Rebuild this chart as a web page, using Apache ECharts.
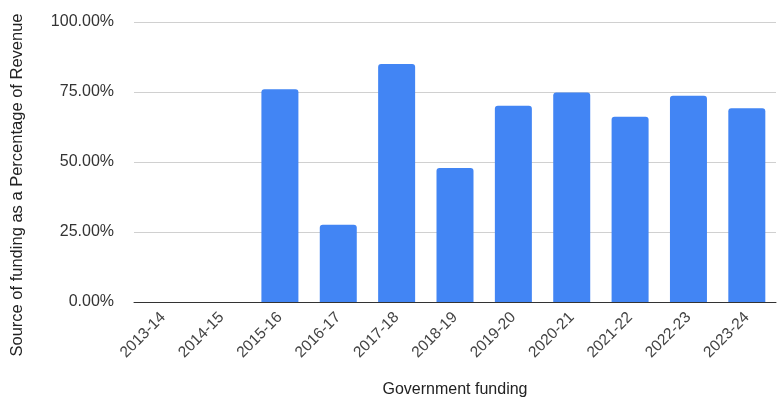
<!DOCTYPE html>
<html>
<head>
<meta charset="utf-8">
<script src="https://cdn.jsdelivr.net/npm/echarts@6/dist/echarts.min.js"></script>
<style>
  html, body { margin: 0; padding: 0; background: #fff; }
  #chart { width: 777px; height: 399px; }
</style>
</head>
<body>
<div id="chart"></div>
<script>
var years = ['2013-14', '2014-15', '2015-16', '2016-17', '2017-18', '2018-19',
  '2019-20', '2020-21', '2021-22', '2022-23', '2023-24'];
var govShare = [0, 0, 76.0, 27.6, 85.0, 47.9, 70.1, 74.8, 66.2, 73.7, 69.2];
var yTicks = [0, 25, 50, 75, 100];

var chartDom = document.getElementById('chart');
var myChart = echarts.init(chartDom);
var option;

option = {
  animation: false,
  textStyle: { fontFamily: 'Liberation Sans, Arial, sans-serif' },
  grid: { left: 134, right: 1, top: 22, bottom: 97, containLabel: false, outerBoundsMode: 'none' },
  xAxis: {
    type: 'category',
    data: years,
    name: 'Government funding',
    nameLocation: 'middle',
    nameGap: 80,
    nameTextStyle: { color: '#222', fontSize: 16 },
    axisLine: { lineStyle: { color: '#333', width: 1 } },
    axisTick: { show: false },
    axisLabel: { rotate: 45, color: '#444', fontSize: 15.5, margin: 13, interval: 0 }
  },
  yAxis: {
    type: 'value',
    min: 0,
    max: 100,
    interval: 25,
    name: 'Source of funding as a Percentage of Revenue',
    nameLocation: 'middle',
    nameGap: 108,
    nameTextStyle: { color: '#222', fontSize: 16.5, padding: [0, 46, 0, 0] },
    axisLine: { show: false },
    axisTick: { show: false },
    splitLine: { lineStyle: { color: '#d0d0d0' } },
    axisLabel: {
      color: '#333',
      fontSize: 16,
      margin: 20,
      formatter: function (v) { return yTicks.indexOf(v) >= 0 ? v.toFixed(2) + '%' : ''; }
    }
  },
  series: [
    {
      type: 'bar',
      data: govShare,
      barWidth: 37,
      itemStyle: { color: '#4285F4', borderRadius: [3, 3, 0, 0] }
    }
  ]
};

option && myChart.setOption(option);
</script>
</body>
</html>
